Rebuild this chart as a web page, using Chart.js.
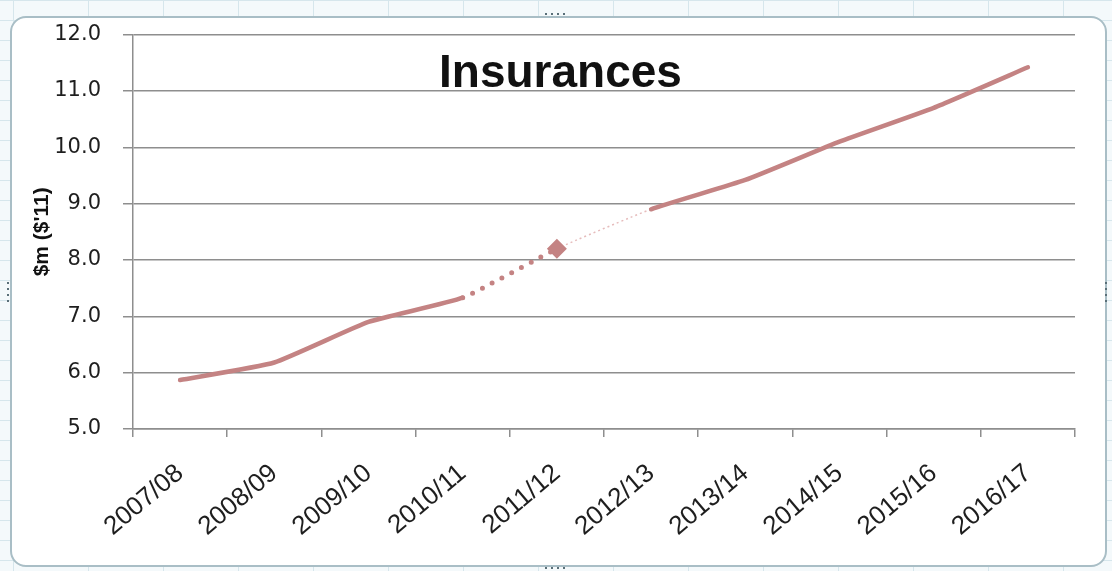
<!DOCTYPE html>
<html>
<head>
<meta charset="utf-8">
<script src="https://cdn.jsdelivr.net/npm/chart.js@4/dist/chart.umd.min.js"></script>
<style>
  html, body { margin:0; padding:0; }
  body {
    width:1112px; height:571px; overflow:hidden; position:relative;
    background-color:#f4f9fb;
    background-image:
      linear-gradient(to right, #d6e6ec 1px, transparent 1px),
      linear-gradient(to bottom, #d6e6ec 1px, transparent 1px);
    background-size: 75px 100%, 100% 20px;
    background-position: 13px 0, 0 0;
  }
  #frame {
    position:absolute; left:10px; top:16px; width:1093px; height:547px;
    border:2px solid #a9bec6; border-radius:16px; background:#ffffff;
  }
  .h { position:absolute; width:26px; height:4px;
       background-image: radial-gradient(circle, #5a6f78 1.2px, transparent 1.5px);
       background-size:6px 4px; }
  .v { position:absolute; width:4px; height:26px;
       background-image: radial-gradient(circle, #5a6f78 1.2px, transparent 1.5px);
       background-size:4px 6px; }
  #c { position:absolute; left:0; top:0; }
</style>
</head>
<body>
<div id="frame"></div>
<div class="h" style="left:543px; top:12px;"></div>
<div class="h" style="left:543px; top:566px;"></div>
<div class="v" style="left:6px; top:280px;"></div>
<div class="v" style="left:1104px; top:280px;"></div>
<canvas id="c" width="1112" height="571"></canvas>
<script>
// ---- data ----
const categories = ["2007/08","2008/09","2009/10","2010/11","2011/12","2012/13","2013/14","2014/15","2015/16","2016/17"];
const insurances = [5.87, 6.18, 6.9, 7.33, 8.2, 8.9, 9.42, 10.1, 10.7, 11.42];
const estimateIndex = 4;   // 2011/12 shown as a diamond estimate
const chartTitle = "Insurances";
const yAxisTitle = "$m ($'11)";
const yMin = 5, yMax = 12, yStep = 1;

const lineColor = '#c48383';
const gridColor = '#8e8e8e';

new Chart(document.getElementById('c'), {
  type: 'line',
  data: {
    labels: categories,
    datasets: [{
      data: insurances,
      borderColor: lineColor,
      backgroundColor: lineColor,
      borderWidth: 4.5,
      borderCapStyle: 'round',
      tension: 0.15,
      pointStyle: 'rectRot',
      pointRadius: ctx => ctx.dataIndex === estimateIndex ? 10 : 0,
      pointHoverRadius: ctx => ctx.dataIndex === estimateIndex ? 10 : 0,
      pointBorderWidth: 0,
      pointBackgroundColor: lineColor,
      segment: {
        borderDash: ctx => ctx.p1DataIndex === estimateIndex ? [0, 11]
                         : (ctx.p0DataIndex === estimateIndex ? [2, 3] : undefined),
        borderWidth: ctx => ctx.p1DataIndex === estimateIndex ? 5
                         : (ctx.p0DataIndex === estimateIndex ? 1.5 : undefined),
        borderColor: ctx => ctx.p0DataIndex === estimateIndex ? '#e6bcbc' : undefined,
        borderCapStyle: ctx => ctx.p1DataIndex === estimateIndex ? 'round'
                         : (ctx.p0DataIndex === estimateIndex ? 'butt' : undefined)
      }
    }]
  },
  options: {
    responsive: false,
    animation: false,
    layout: { padding: { left: 46, right: 37, top: 0, bottom: 0 } },
    plugins: {
      legend: { display: false },
      tooltip: { enabled: false },
      title: {
        display: true,
        text: chartTitle,
        color: '#111111',
        font: { family: 'Liberation Sans', size: 46, weight: 'bold', lineHeight: 1.2 },
        padding: { top: 45, bottom: -67.2 },
        align: 'center'
      }
    },
    scales: {
      x: {
        offset: true,
        grid: { offset: true, drawOnChartArea: false, drawTicks: true, tickLength: 8,
                color: gridColor, lineWidth: 1.5 },
        border: { color: gridColor, width: 1.5 },
        ticks: {
          color: '#1e1e1e', minRotation: 40, maxRotation: 40, padding: 21, labelOffset: 0,
          autoSkip: false,
          font: { family: 'Liberation Sans', size: 26 }
        },
        afterFit: s => { s.height = 142; }
      },
      y: {
        min: yMin, max: yMax,
        grid: { color: gridColor, lineWidth: 1.5, tickLength: 10 },
        border: { color: gridColor, width: 1.5 },
        ticks: {
          stepSize: yStep, padding: 22, color: '#1e1e1e',
          font: { family: 'DejaVu Sans', size: 21 },
          callback: v => v.toFixed(1)
        },
        title: {
          display: true, text: yAxisTitle, color: '#111111',
          font: { family: 'Liberation Sans', size: 21, weight: 'bold', lineHeight: 1.2 },
          padding: { top: -16.6, bottom: 0 }
        },
        afterFit: s => { s.width = 87; }
      }
    }
  }
});
</script>
</body>
</html>
